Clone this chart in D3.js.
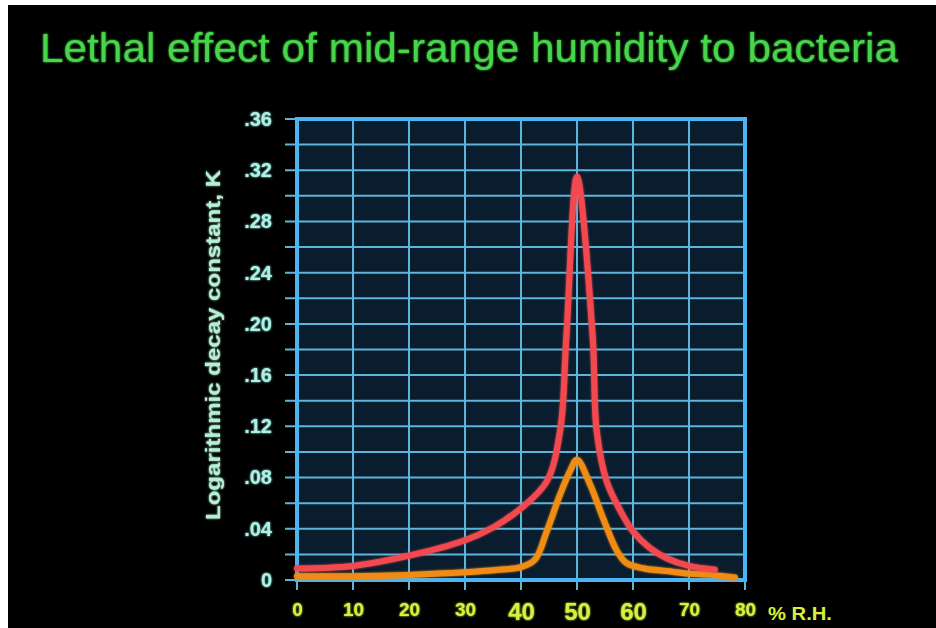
<!DOCTYPE html>
<html>
<head>
<meta charset="utf-8">
<script src="https://cdn.jsdelivr.net/npm/d3@7"></script>
<style>
  body { margin: 0; background: #000; }
  text { font-family: "Liberation Sans", Arial, sans-serif; }
</style>
</head>
<body>
<div id="chart-area"></div>
<script>
let width = 936,
height = 628;

// data
let rhRed = [0, 10, 20, 30, 35, 40, 44.6, 47, 48.1, 50, 52.8, 53.5, 55.3, 58, 60, 63, 66, 70, 74.6];
let kRed = [.009, .011, .019, .031, .041, .056, .077, .117, .19, .315, .19, .117, .077, .052, .038, .025, .017, .011, .008];

let rhOrange = [0, 10, 20, 30, 36, 40, 42.5, 44.6, 47, 48.75, 50, 52.3, 54.6, 57.1, 58.9, 62, 66, 70, 74, 78.2];
let kOrange = [.003, .003, .004, .006, .008, .010, .016, .038, .067, .085, .094, .075, .049, .023, .013, .009, .007, .005, .004, .002];

let xTicks = [0, 10, 20, 30, 40, 50, 60, 70, 80];
let yTicks = [0, .04, .08, .12, .16, .20, .24, .28, .32, .36];
let yMinor = d3.range(0, 0.3601, 0.02);

let titleText = "Lethal effect of mid-range humidity to bacteria";
let yLabel = "Logarithmic decay constant, K";
let xUnit = "% R.H.";

let svg = d3.select("#chart-area").append("svg")
	.attr("width", width)
	.attr("height", height);

svg.append("rect").attr("width", width).attr("height", height).attr("fill", "#000");
// white scan edge at top/left of the slide photo
svg.append("rect").attr("width", width).attr("height", 5).attr("fill", "#fff");
svg.append("rect").attr("width", 8).attr("height", height).attr("fill", "#fff");

let defs = svg.append("defs");
let glow = defs.append("filter").attr("id", "glow").attr("x", "-20%").attr("y", "-20%").attr("width", "140%").attr("height", "140%");
glow.append("feGaussianBlur").attr("stdDeviation", 1.2).attr("result", "b");
let fm = glow.append("feMerge");
fm.append("feMergeNode").attr("in", "b");
fm.append("feMergeNode").attr("in", "SourceGraphic");

let x = d3.scaleLinear().domain([0, 80]).range([297, 745]);
let y = d3.scaleLinear().domain([0, 0.36]).range([580, 119]);

// title
svg.append("text")
	.attr("x", 40).attr("y", 62)
	.attr("textLength", 858).attr("lengthAdjust", "spacingAndGlyphs")
	.attr("font-size", 41)
	.attr("fill", "#46d64a")
	.attr("filter", "url(#glow)")
	.text(titleText);

// plot background
svg.append("rect")
	.attr("x", x(0)).attr("y", y(0.36))
	.attr("width", x(80) - x(0)).attr("height", y(0) - y(0.36))
	.attr("fill", "#0a1d2e");

// grid
let grid = svg.append("g").attr("stroke", "#5cb6dc").attr("stroke-width", 2);
grid.selectAll(".hg").data(yMinor).enter().append("line")
	.attr("x1", x(0) - 12).attr("x2", x(80))
	.attr("y1", d => y(d)).attr("y2", d => y(d));
grid.selectAll(".vg").data(xTicks).enter().append("line")
	.attr("x1", d => x(d)).attr("x2", d => x(d))
	.attr("y1", y(0.36)).attr("y2", y(0) + 10);

// frame
svg.append("rect")
	.attr("x", x(0)).attr("y", y(0.36))
	.attr("width", x(80) - x(0)).attr("height", y(0) - y(0.36))
	.attr("fill", "none").attr("stroke", "#4cb4f2").attr("stroke-width", 4);

// y axis labels
let yAxis = d3.axisLeft(y)
	.tickValues(yTicks)
	.tickSize(0)
	.tickPadding(25)
	.tickFormat(d => d === 0 ? "0" : d3.format(".2f")(d).slice(1));
let ya = svg.append("g").attr("transform", "translate(" + x(0) + ",0)").call(yAxis);
ya.select(".domain").remove();
ya.selectAll("text")
	.attr("font-size", 20).attr("font-weight", "bold")
	.attr("fill", "#a8f2e6")
	.attr("font-family", "Liberation Sans, Arial, sans-serif")
	.attr("filter", "url(#glow)");

// x axis labels
let xAxis = d3.axisBottom(x)
	.tickValues(xTicks)
	.tickSize(0)
	.tickPadding(23)
	.tickFormat(d3.format("d"));
let xa = svg.append("g").attr("transform", "translate(0," + y(0) + ")").call(xAxis);
xa.select(".domain").remove();
xa.selectAll("text")
	.attr("font-size", d => (d >= 40 && d <= 60) ? 24 : 19)
	.attr("font-weight", "bold")
	.attr("fill", "#d4f23c")
	.attr("font-family", "Liberation Sans, Arial, sans-serif")
	.attr("filter", "url(#glow)");

svg.append("text")
	.attr("x", 768).attr("y", 620)
	.attr("font-size", 19).attr("font-weight", "bold")
	.attr("fill", "#d4f23c")
	.attr("textLength", 64).attr("lengthAdjust", "spacingAndGlyphs")
	.text(xUnit);

// y label
svg.append("text")
	.attr("transform", "translate(220,345) rotate(-90)")
	.attr("text-anchor", "middle")
	.attr("font-size", 21).attr("font-weight", "bold")
	.attr("textLength", 350).attr("lengthAdjust", "spacingAndGlyphs")
	.attr("fill", "#b4f0d4")
	.attr("filter", "url(#glow)")
	.text(yLabel);

// curves
let line = d3.line()
	.x(d => x(d[0]))
	.y(d => y(d[1]))
	.curve(d3.curveCatmullRom.alpha(0.5));

svg.append("path")
	.datum(d3.zip(rhOrange, kOrange))
	.attr("d", line)
	.attr("fill", "none")
	.attr("stroke", "#f08c12")
	.attr("stroke-width", 6)
	.attr("stroke-linecap", "round")
	.attr("stroke-linejoin", "round")
	.attr("filter", "url(#glow)");

svg.append("path")
	.datum(d3.zip(rhRed, kRed))
	.attr("d", line)
	.attr("fill", "none")
	.attr("stroke", "#f24a50")
	.attr("stroke-width", 6)
	.attr("stroke-linecap", "round")
	.attr("stroke-linejoin", "round")
	.attr("filter", "url(#glow)");
</script>
</body>
</html>
